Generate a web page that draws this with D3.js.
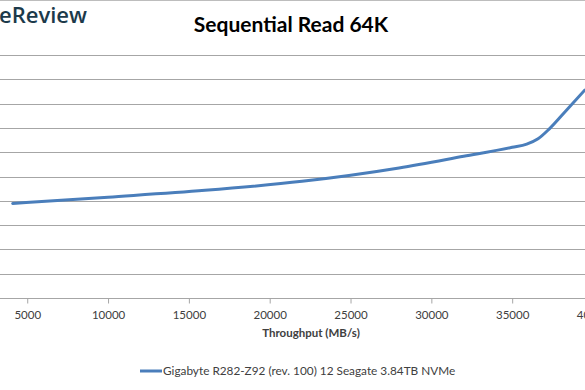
<!DOCTYPE html>
<html>
<head>
<meta charset="utf-8">
<script src="https://cdn.jsdelivr.net/npm/d3@7"></script>
<style>
  html, body { margin: 0; padding: 0; background: #fff; }
  svg { display: block; }
</style>
</head>
<body>
<div id="chart"></div>
<script>
// Data (y axis labels are cropped out of the reference)
const throughput = [4100, 10000, 16000, 22000, 28000, 32000, 35000, 35900, 36600, 37300, 38400, 39500];
const latency    = [3.89, 4.15, 4.43, 4.80, 5.35, 5.83, 6.20, 6.33, 6.55, 6.96, 7.76, 8.56];
const xTicks = [5000, 10000, 15000, 20000, 25000, 30000, 35000, 40000];
const yTicks = [0, 1, 2, 3, 4, 5, 6, 7, 8, 9, 10];
const seriesName = "Gigabyte R282-Z92 (rev. 100) 12 Seagate 3.84TB NVMe";

const width = 585, height = 390;
const font = "Lato, 'Open Sans', sans-serif";

const svg = d3.select("#chart").append("svg")
    .attr("width", width)
    .attr("height", height);

// plot area extends past both edges of the crop
const x = d3.scaleLinear().domain([0, 40000]).range([-53.6, 593]);
const y = d3.scaleLinear().domain([0, 10]).range([298, 55]);

// top border of the chart frame
svg.append("line")
    .attr("x1", 0).attr("x2", width)
    .attr("y1", 0.5).attr("y2", 0.5)
    .attr("stroke", "#bdbdbd");

// logo (cropped)
svg.append("text")
    .attr("x", -1).attr("y", 23)
    .style("font-family", "'Open Sans', sans-serif")
    .style("font-weight", 600)
    .style("font-size", "22px")
    .style("fill", "#1c3a4a")
    .text("eReview");

// Title
svg.append("text")
    .attr("x", 291).attr("y", 32)
    .attr("text-anchor", "middle")
    .style("font-family", font)
    .style("font-weight", 700)
    .style("font-size", "21px")
    .style("fill", "#000")
    .text("Sequential Read 64K");

// Gridlines
svg.append("g")
    .selectAll("line")
    .data(yTicks.slice(1))
    .enter()
    .append("line")
    .attr("x1", x(0)).attr("x2", x(40000))
    .attr("y1", d => Math.round(y(d)) + 0.5)
    .attr("y2", d => Math.round(y(d)) + 0.5)
    .attr("stroke", "#a6a6a6")
    .attr("stroke-width", 1);

// X axis
const xAxis = svg.append("g")
    .attr("transform", `translate(0,${Math.round(y(0)) + 0.5})`)
    .call(d3.axisBottom(x).tickValues(xTicks).tickSize(5).tickPadding(7).tickFormat(d3.format("d")));
xAxis.select(".domain").attr("stroke", "#a6a6a6").attr("d", `M${x(0)},0H${x(40000)}`);
xAxis.selectAll(".tick line").attr("stroke", "#a6a6a6");
xAxis.selectAll("text")
    .style("font-family", font)
    .style("font-size", "11.5px")
    .style("fill", "#404040");

// X axis title
svg.append("text")
    .attr("x", 311).attr("y", 337)
    .attr("text-anchor", "middle")
    .style("font-family", font)
    .style("font-weight", 700)
    .style("font-size", "11.5px")
    .style("fill", "#404040")
    .text("Throughput (MB/s)");

// Series line
const data = throughput.map((t, i) => ({ t, v: latency[i] }));
const line = d3.line()
    .x(d => x(d.t))
    .y(d => y(d.v))
    .curve(d3.curveMonotoneX);

svg.append("path")
    .datum(data)
    .attr("fill", "none")
    .attr("stroke", "#4a7ebb")
    .attr("stroke-width", 3)
    .attr("stroke-linecap", "round")
    .attr("d", line);

// Legend
const legend = svg.append("g").attr("transform", "translate(140,371)");
legend.append("line")
    .attr("x1", 0).attr("x2", 22)
    .attr("y1", 0).attr("y2", 0)
    .attr("stroke", "#4a7ebb")
    .attr("stroke-width", 3);
legend.append("text")
    .attr("x", 23).attr("y", 4)
    .style("font-family", font)
    .style("font-size", "11.8px")
    .style("fill", "#404040")
    .text(seriesName);
</script>
</body>
</html>
